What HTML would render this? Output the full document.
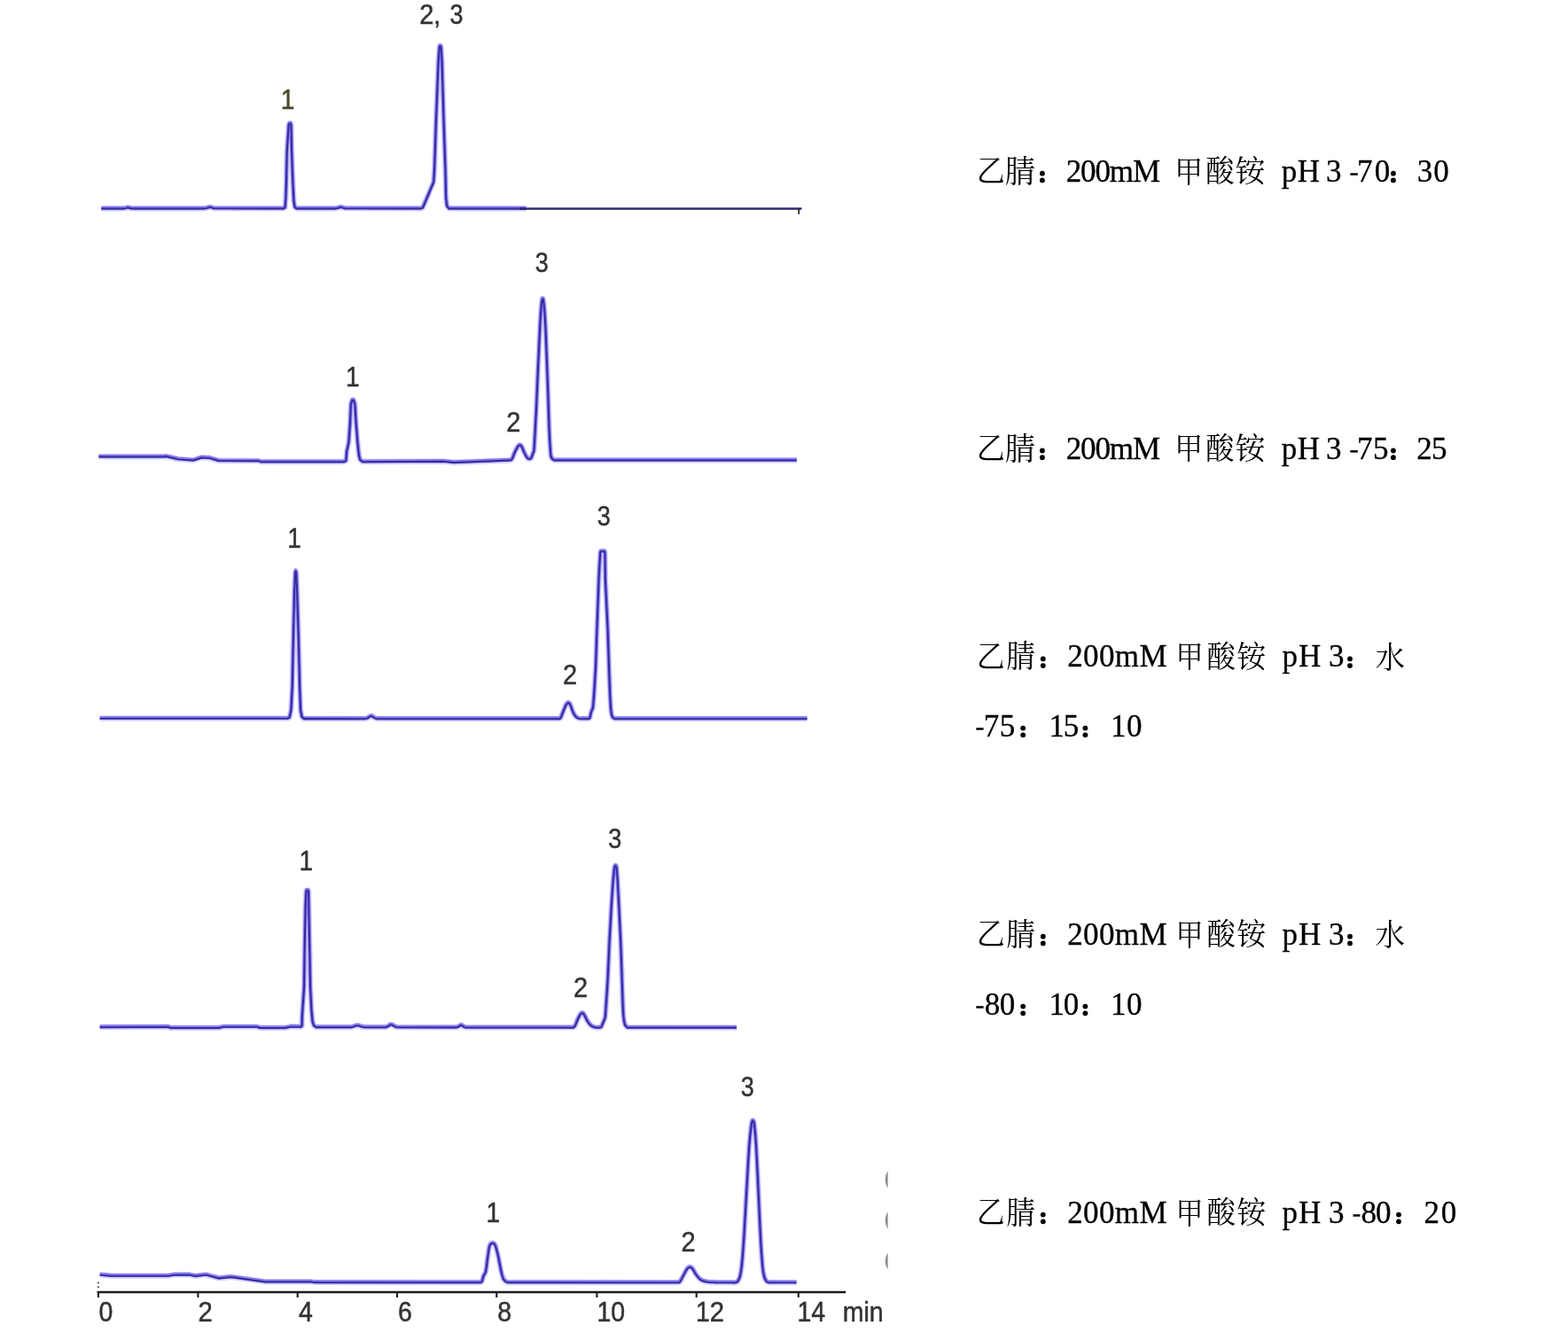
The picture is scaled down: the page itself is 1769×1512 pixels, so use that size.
<!DOCTYPE html><html><head><meta charset="utf-8"><title>Chromatograms</title><style>html,body{margin:0;padding:0;background:#fff;}body{width:1769px;height:1512px;overflow:hidden;}svg{display:block;}text{font-kerning:none;white-space:pre;}</style></head><body><svg width="1769" height="1512" viewBox="0 0 1769 1512">
<g filter="url(#bl)">
<path d="M114.3,235.3 139.8,235.2 141.8,234.9 143.8,234.3 144.8,234.3 148.3,235.2 230.8,235.2 232.8,234.9 235.8,234.0 236.8,233.8 237.8,233.9 241.3,235.0 319.5,235.3 321.6,234.2 322.4,223.2 323.0,206.0 323.7,171.6 325.7,141.3 326.5,139.2 327.7,139.2 328.5,141.3 329.1,171.6 330.4,206.0 331.5,227.5 332.6,233.8 334.5,235.3 378.3,235.2 380.3,234.9 383.3,234.0 384.3,233.8 385.3,233.9 388.8,235.0 474.5,235.3 477.0,234.3 481.6,223.6 489.2,205.5 490.2,189.2 491.9,137.6 494.6,68.8 495.7,53.4 496.1,51.9 497.1,51.9 497.6,53.4 498.6,68.8 500.6,137.6 502.4,189.2 503.2,223.6 504.2,232.5 506.5,235.3 593.8,235.3" fill="none" stroke="#5a48ee" stroke-width="6.4" stroke-linejoin="round" stroke-linecap="butt" opacity="0.26"/>
<path d="M114.3,235.3 139.8,235.2 141.8,234.9 143.8,234.3 144.8,234.3 148.3,235.2 230.8,235.2 232.8,234.9 235.8,234.0 236.8,233.8 237.8,233.9 241.3,235.0 319.5,235.3 321.6,234.2 322.4,223.2 323.0,206.0 323.7,171.6 325.7,141.3 326.5,139.2 327.7,139.2 328.5,141.3 329.1,171.6 330.4,206.0 331.5,227.5 332.6,233.8 334.5,235.3 378.3,235.2 380.3,234.9 383.3,234.0 384.3,233.8 385.3,233.9 388.8,235.0 474.5,235.3 477.0,234.3 481.6,223.6 489.2,205.5 490.2,189.2 491.9,137.6 494.6,68.8 495.7,53.4 496.1,51.9 497.1,51.9 497.6,53.4 498.6,68.8 500.6,137.6 502.4,189.2 503.2,223.6 504.2,232.5 506.5,235.3 593.8,235.3" transform="translate(0,-0.55)" fill="none" stroke="#7d6ff4" stroke-width="4.0" stroke-linejoin="round" stroke-linecap="butt" opacity="0.9"/>
<path d="M114.3,235.3 139.8,235.2 141.8,234.9 143.8,234.3 144.8,234.3 148.3,235.2 230.8,235.2 232.8,234.9 235.8,234.0 236.8,233.8 237.8,233.9 241.3,235.0 319.5,235.3 321.6,234.2 322.4,223.2 323.0,206.0 323.7,171.6 325.7,141.3 326.5,139.2 327.7,139.2 328.5,141.3 329.1,171.6 330.4,206.0 331.5,227.5 332.6,233.8 334.5,235.3 378.3,235.2 380.3,234.9 383.3,234.0 384.3,233.8 385.3,233.9 388.8,235.0 474.5,235.3 477.0,234.3 481.6,223.6 489.2,205.5 490.2,189.2 491.9,137.6 494.6,68.8 495.7,53.4 496.1,51.9 497.1,51.9 497.6,53.4 498.6,68.8 500.6,137.6 502.4,189.2 503.2,223.6 504.2,232.5 506.5,235.3 593.8,235.3" transform="translate(0,0.25)" fill="none" stroke="#362c98" stroke-width="1.95" stroke-linejoin="round" stroke-linecap="butt"/>
<path d="M586 235.5 H904.5" stroke="#2c2a68" stroke-width="2.3" fill="none"/>
<path d="M901.2 235 V241.8" stroke="#222" stroke-width="1.7" fill="none"/>
<path d="M111.4,515.3 184.9,515.3 186.9,514.8 201.4,518.1 217.9,519.3 218.4,519.2 227.4,516.3 227.9,516.2 236.9,516.9 246.4,519.7 246.9,519.8 291.4,520.0 291.9,520.0 293.9,521.0 388.5,521.0 390.4,520.0 391.1,509.9 393.4,499.4 394.9,478.6 395.9,456.0 397.4,451.4 398.8,451.4 400.4,456.0 401.8,478.6 403.4,499.4 404.9,513.3 406.2,518.8 409.0,521.0 499.9,520.5 512.4,521.7 575.5,519.3 576.9,518.8 577.8,517.8 578.7,515.7 579.7,513.0 580.8,510.4 582.0,507.9 583.4,505.4 584.5,503.6 585.3,502.7 586.0,502.4 586.6,502.4 587.2,502.5 587.7,502.9 588.4,503.8 589.3,505.6 591.3,510.4 593.5,514.7 594.5,516.3 595.4,517.3 596.2,517.7 597.0,517.9 597.9,517.8 598.7,517.4 599.5,516.5 600.2,514.9 601.5,511.0 602.2,509.7 602.5,507.6 602.8,503.3 605.0,462.1 606.8,419.5 608.7,379.6 609.5,362.6 610.2,351.8 610.8,344.8 611.3,340.1 611.7,337.8 611.9,337.2 612.2,337.3 612.5,337.2 612.8,337.8 613.2,340.1 613.8,344.8 614.4,351.8 615.1,362.6 615.9,379.6 618.0,435.3 619.5,482.1 619.9,490.5 620.3,498.7 620.8,506.2 621.2,511.8 621.6,514.8 622.0,516.1 622.5,517.0 623.5,518.1 625.5,519.3 898.9,519.3" fill="none" stroke="#5a48ee" stroke-width="6.4" stroke-linejoin="round" stroke-linecap="butt" opacity="0.26"/>
<path d="M111.4,515.3 184.9,515.3 186.9,514.8 201.4,518.1 217.9,519.3 218.4,519.2 227.4,516.3 227.9,516.2 236.9,516.9 246.4,519.7 246.9,519.8 291.4,520.0 291.9,520.0 293.9,521.0 388.5,521.0 390.4,520.0 391.1,509.9 393.4,499.4 394.9,478.6 395.9,456.0 397.4,451.4 398.8,451.4 400.4,456.0 401.8,478.6 403.4,499.4 404.9,513.3 406.2,518.8 409.0,521.0 499.9,520.5 512.4,521.7 575.5,519.3 576.9,518.8 577.8,517.8 578.7,515.7 579.7,513.0 580.8,510.4 582.0,507.9 583.4,505.4 584.5,503.6 585.3,502.7 586.0,502.4 586.6,502.4 587.2,502.5 587.7,502.9 588.4,503.8 589.3,505.6 591.3,510.4 593.5,514.7 594.5,516.3 595.4,517.3 596.2,517.7 597.0,517.9 597.9,517.8 598.7,517.4 599.5,516.5 600.2,514.9 601.5,511.0 602.2,509.7 602.5,507.6 602.8,503.3 605.0,462.1 606.8,419.5 608.7,379.6 609.5,362.6 610.2,351.8 610.8,344.8 611.3,340.1 611.7,337.8 611.9,337.2 612.2,337.3 612.5,337.2 612.8,337.8 613.2,340.1 613.8,344.8 614.4,351.8 615.1,362.6 615.9,379.6 618.0,435.3 619.5,482.1 619.9,490.5 620.3,498.7 620.8,506.2 621.2,511.8 621.6,514.8 622.0,516.1 622.5,517.0 623.5,518.1 625.5,519.3 898.9,519.3" transform="translate(0,-0.55)" fill="none" stroke="#7d6ff4" stroke-width="4.0" stroke-linejoin="round" stroke-linecap="butt" opacity="0.9"/>
<path d="M111.4,515.3 184.9,515.3 186.9,514.8 201.4,518.1 217.9,519.3 218.4,519.2 227.4,516.3 227.9,516.2 236.9,516.9 246.4,519.7 246.9,519.8 291.4,520.0 291.9,520.0 293.9,521.0 388.5,521.0 390.4,520.0 391.1,509.9 393.4,499.4 394.9,478.6 395.9,456.0 397.4,451.4 398.8,451.4 400.4,456.0 401.8,478.6 403.4,499.4 404.9,513.3 406.2,518.8 409.0,521.0 499.9,520.5 512.4,521.7 575.5,519.3 576.9,518.8 577.8,517.8 578.7,515.7 579.7,513.0 580.8,510.4 582.0,507.9 583.4,505.4 584.5,503.6 585.3,502.7 586.0,502.4 586.6,502.4 587.2,502.5 587.7,502.9 588.4,503.8 589.3,505.6 591.3,510.4 593.5,514.7 594.5,516.3 595.4,517.3 596.2,517.7 597.0,517.9 597.9,517.8 598.7,517.4 599.5,516.5 600.2,514.9 601.5,511.0 602.2,509.7 602.5,507.6 602.8,503.3 605.0,462.1 606.8,419.5 608.7,379.6 609.5,362.6 610.2,351.8 610.8,344.8 611.3,340.1 611.7,337.8 611.9,337.2 612.2,337.3 612.5,337.2 612.8,337.8 613.2,340.1 613.8,344.8 614.4,351.8 615.1,362.6 615.9,379.6 618.0,435.3 619.5,482.1 619.9,490.5 620.3,498.7 620.8,506.2 621.2,511.8 621.6,514.8 622.0,516.1 622.5,517.0 623.5,518.1 625.5,519.3 898.9,519.3" transform="translate(0,0.25)" fill="none" stroke="#362c98" stroke-width="1.95" stroke-linejoin="round" stroke-linecap="butt"/>
<path d="M112.6,810.6 324.5,810.6 326.6,809.6 328.4,801.4 329.8,774.3 330.9,720.0 332.2,665.7 333.1,646.3 333.6,644.2 334.3,646.3 335.1,665.7 336.8,720.0 338.1,774.3 339.1,801.4 340.5,808.8 343.0,811.0 343.1,810.8 412.1,810.9 413.6,810.6 414.6,810.3 417.6,808.3 418.1,808.1 418.6,808.0 419.1,808.0 419.6,808.1 420.6,808.7 422.6,810.0 423.6,810.5 425.1,810.9 630.1,810.9 630.5,811.0 631.7,810.7 632.5,810.0 633.2,808.6 637.3,798.2 638.5,795.6 639.5,794.2 640.4,793.3 641.3,793.0 642.0,793.3 642.7,794.2 643.5,795.6 644.5,798.2 645.7,801.6 646.8,804.4 647.8,806.2 648.6,807.5 650.3,809.3 651.1,809.9 652.0,810.4 653.4,810.7 656.0,811.0 656.1,810.9 663.6,810.9 663.8,811.0 665.5,810.2 666.8,804.0 669.0,798.4 670.2,783.6 672.0,753.8 673.5,709.2 675.7,649.6 677.2,623.8 677.8,622.0 682.0,622.0 682.5,623.8 682.9,654.1 685.6,709.2 687.1,753.8 688.2,783.6 689.0,798.4 690.0,806.5 691.5,810.0 693.5,811.0 693.6,810.9 910.6,810.9" fill="none" stroke="#5a48ee" stroke-width="6.4" stroke-linejoin="round" stroke-linecap="butt" opacity="0.26"/>
<path d="M112.6,810.6 324.5,810.6 326.6,809.6 328.4,801.4 329.8,774.3 330.9,720.0 332.2,665.7 333.1,646.3 333.6,644.2 334.3,646.3 335.1,665.7 336.8,720.0 338.1,774.3 339.1,801.4 340.5,808.8 343.0,811.0 343.1,810.8 412.1,810.9 413.6,810.6 414.6,810.3 417.6,808.3 418.1,808.1 418.6,808.0 419.1,808.0 419.6,808.1 420.6,808.7 422.6,810.0 423.6,810.5 425.1,810.9 630.1,810.9 630.5,811.0 631.7,810.7 632.5,810.0 633.2,808.6 637.3,798.2 638.5,795.6 639.5,794.2 640.4,793.3 641.3,793.0 642.0,793.3 642.7,794.2 643.5,795.6 644.5,798.2 645.7,801.6 646.8,804.4 647.8,806.2 648.6,807.5 650.3,809.3 651.1,809.9 652.0,810.4 653.4,810.7 656.0,811.0 656.1,810.9 663.6,810.9 663.8,811.0 665.5,810.2 666.8,804.0 669.0,798.4 670.2,783.6 672.0,753.8 673.5,709.2 675.7,649.6 677.2,623.8 677.8,622.0 682.0,622.0 682.5,623.8 682.9,654.1 685.6,709.2 687.1,753.8 688.2,783.6 689.0,798.4 690.0,806.5 691.5,810.0 693.5,811.0 693.6,810.9 910.6,810.9" transform="translate(0,-0.55)" fill="none" stroke="#7d6ff4" stroke-width="4.0" stroke-linejoin="round" stroke-linecap="butt" opacity="0.9"/>
<path d="M112.6,810.6 324.5,810.6 326.6,809.6 328.4,801.4 329.8,774.3 330.9,720.0 332.2,665.7 333.1,646.3 333.6,644.2 334.3,646.3 335.1,665.7 336.8,720.0 338.1,774.3 339.1,801.4 340.5,808.8 343.0,811.0 343.1,810.8 412.1,810.9 413.6,810.6 414.6,810.3 417.6,808.3 418.1,808.1 418.6,808.0 419.1,808.0 419.6,808.1 420.6,808.7 422.6,810.0 423.6,810.5 425.1,810.9 630.1,810.9 630.5,811.0 631.7,810.7 632.5,810.0 633.2,808.6 637.3,798.2 638.5,795.6 639.5,794.2 640.4,793.3 641.3,793.0 642.0,793.3 642.7,794.2 643.5,795.6 644.5,798.2 645.7,801.6 646.8,804.4 647.8,806.2 648.6,807.5 650.3,809.3 651.1,809.9 652.0,810.4 653.4,810.7 656.0,811.0 656.1,810.9 663.6,810.9 663.8,811.0 665.5,810.2 666.8,804.0 669.0,798.4 670.2,783.6 672.0,753.8 673.5,709.2 675.7,649.6 677.2,623.8 677.8,622.0 682.0,622.0 682.5,623.8 682.9,654.1 685.6,709.2 687.1,753.8 688.2,783.6 689.0,798.4 690.0,806.5 691.5,810.0 693.5,811.0 693.6,810.9 910.6,810.9" transform="translate(0,0.25)" fill="none" stroke="#362c98" stroke-width="1.95" stroke-linejoin="round" stroke-linecap="butt"/>
<path d="M112.6,1158.9 189.6,1158.6 190.1,1158.7 192.1,1159.8 247.1,1159.8 252.1,1158.6 290.1,1158.6 293.1,1159.8 322.1,1159.8 328.1,1158.4 338.1,1158.6 338.5,1158.8 340.6,1157.8 340.9,1146.1 343.1,1113.9 343.6,1075.2 344.6,1023.7 345.4,1006.4 345.9,1004.6 347.7,1004.6 348.1,1006.4 348.4,1023.7 349.4,1075.2 350.1,1113.9 351.4,1139.7 352.6,1152.6 354.0,1157.0 356.5,1159.0 356.6,1158.9 396.1,1159.0 398.1,1158.6 402.1,1157.2 403.1,1157.1 404.1,1157.1 408.6,1158.6 411.6,1159.0 434.6,1159.1 436.1,1158.8 437.1,1158.4 440.1,1156.5 440.6,1156.3 441.1,1156.2 441.6,1156.1 442.1,1156.3 443.1,1156.8 445.1,1158.1 446.1,1158.6 447.6,1159.0 514.6,1159.2 515.6,1159.1 516.6,1158.8 517.6,1158.2 519.1,1157.1 519.6,1156.9 520.1,1156.8 520.6,1156.8 521.1,1157.0 523.1,1158.4 524.1,1158.9 525.1,1159.2 646.5,1159.4 647.7,1158.9 648.5,1158.0 649.3,1156.4 651.0,1152.0 653.4,1147.0 654.5,1145.0 655.4,1143.8 656.1,1143.3 656.8,1143.1 657.5,1143.3 658.2,1143.8 659.0,1145.0 660.1,1147.0 661.4,1149.7 662.6,1152.0 663.8,1153.8 664.9,1155.3 666.0,1156.5 667.1,1157.4 668.1,1158.1 669.2,1158.6 670.4,1159.0 671.7,1159.2 674.4,1159.5 675.8,1159.5 677.0,1159.4 677.7,1159.3 678.1,1159.0 678.5,1158.5 679.0,1157.7 680.0,1155.0 681.9,1150.7 682.7,1147.7 683.1,1144.4 683.7,1134.6 684.9,1116.9 685.6,1105.5 687.6,1061.8 689.9,1020.9 691.0,1003.6 691.8,992.6 692.5,985.4 693.0,980.5 693.4,978.2 693.6,977.8 693.8,977.6 694.2,976.8 694.4,976.7 694.6,976.8 695.0,977.6 695.2,977.8 695.5,978.2 695.8,980.5 696.7,992.6 698.2,1020.9 700.2,1061.8 700.8,1078.0 702.4,1126.5 702.7,1134.6 703.0,1140.8 703.3,1145.4 703.7,1149.1 704.1,1152.1 704.5,1154.2 705.0,1156.0 705.8,1157.5 707.6,1159.4 831.1,1159.5" fill="none" stroke="#5a48ee" stroke-width="6.4" stroke-linejoin="round" stroke-linecap="butt" opacity="0.26"/>
<path d="M112.6,1158.9 189.6,1158.6 190.1,1158.7 192.1,1159.8 247.1,1159.8 252.1,1158.6 290.1,1158.6 293.1,1159.8 322.1,1159.8 328.1,1158.4 338.1,1158.6 338.5,1158.8 340.6,1157.8 340.9,1146.1 343.1,1113.9 343.6,1075.2 344.6,1023.7 345.4,1006.4 345.9,1004.6 347.7,1004.6 348.1,1006.4 348.4,1023.7 349.4,1075.2 350.1,1113.9 351.4,1139.7 352.6,1152.6 354.0,1157.0 356.5,1159.0 356.6,1158.9 396.1,1159.0 398.1,1158.6 402.1,1157.2 403.1,1157.1 404.1,1157.1 408.6,1158.6 411.6,1159.0 434.6,1159.1 436.1,1158.8 437.1,1158.4 440.1,1156.5 440.6,1156.3 441.1,1156.2 441.6,1156.1 442.1,1156.3 443.1,1156.8 445.1,1158.1 446.1,1158.6 447.6,1159.0 514.6,1159.2 515.6,1159.1 516.6,1158.8 517.6,1158.2 519.1,1157.1 519.6,1156.9 520.1,1156.8 520.6,1156.8 521.1,1157.0 523.1,1158.4 524.1,1158.9 525.1,1159.2 646.5,1159.4 647.7,1158.9 648.5,1158.0 649.3,1156.4 651.0,1152.0 653.4,1147.0 654.5,1145.0 655.4,1143.8 656.1,1143.3 656.8,1143.1 657.5,1143.3 658.2,1143.8 659.0,1145.0 660.1,1147.0 661.4,1149.7 662.6,1152.0 663.8,1153.8 664.9,1155.3 666.0,1156.5 667.1,1157.4 668.1,1158.1 669.2,1158.6 670.4,1159.0 671.7,1159.2 674.4,1159.5 675.8,1159.5 677.0,1159.4 677.7,1159.3 678.1,1159.0 678.5,1158.5 679.0,1157.7 680.0,1155.0 681.9,1150.7 682.7,1147.7 683.1,1144.4 683.7,1134.6 684.9,1116.9 685.6,1105.5 687.6,1061.8 689.9,1020.9 691.0,1003.6 691.8,992.6 692.5,985.4 693.0,980.5 693.4,978.2 693.6,977.8 693.8,977.6 694.2,976.8 694.4,976.7 694.6,976.8 695.0,977.6 695.2,977.8 695.5,978.2 695.8,980.5 696.7,992.6 698.2,1020.9 700.2,1061.8 700.8,1078.0 702.4,1126.5 702.7,1134.6 703.0,1140.8 703.3,1145.4 703.7,1149.1 704.1,1152.1 704.5,1154.2 705.0,1156.0 705.8,1157.5 707.6,1159.4 831.1,1159.5" transform="translate(0,-0.55)" fill="none" stroke="#7d6ff4" stroke-width="4.0" stroke-linejoin="round" stroke-linecap="butt" opacity="0.9"/>
<path d="M112.6,1158.9 189.6,1158.6 190.1,1158.7 192.1,1159.8 247.1,1159.8 252.1,1158.6 290.1,1158.6 293.1,1159.8 322.1,1159.8 328.1,1158.4 338.1,1158.6 338.5,1158.8 340.6,1157.8 340.9,1146.1 343.1,1113.9 343.6,1075.2 344.6,1023.7 345.4,1006.4 345.9,1004.6 347.7,1004.6 348.1,1006.4 348.4,1023.7 349.4,1075.2 350.1,1113.9 351.4,1139.7 352.6,1152.6 354.0,1157.0 356.5,1159.0 356.6,1158.9 396.1,1159.0 398.1,1158.6 402.1,1157.2 403.1,1157.1 404.1,1157.1 408.6,1158.6 411.6,1159.0 434.6,1159.1 436.1,1158.8 437.1,1158.4 440.1,1156.5 440.6,1156.3 441.1,1156.2 441.6,1156.1 442.1,1156.3 443.1,1156.8 445.1,1158.1 446.1,1158.6 447.6,1159.0 514.6,1159.2 515.6,1159.1 516.6,1158.8 517.6,1158.2 519.1,1157.1 519.6,1156.9 520.1,1156.8 520.6,1156.8 521.1,1157.0 523.1,1158.4 524.1,1158.9 525.1,1159.2 646.5,1159.4 647.7,1158.9 648.5,1158.0 649.3,1156.4 651.0,1152.0 653.4,1147.0 654.5,1145.0 655.4,1143.8 656.1,1143.3 656.8,1143.1 657.5,1143.3 658.2,1143.8 659.0,1145.0 660.1,1147.0 661.4,1149.7 662.6,1152.0 663.8,1153.8 664.9,1155.3 666.0,1156.5 667.1,1157.4 668.1,1158.1 669.2,1158.6 670.4,1159.0 671.7,1159.2 674.4,1159.5 675.8,1159.5 677.0,1159.4 677.7,1159.3 678.1,1159.0 678.5,1158.5 679.0,1157.7 680.0,1155.0 681.9,1150.7 682.7,1147.7 683.1,1144.4 683.7,1134.6 684.9,1116.9 685.6,1105.5 687.6,1061.8 689.9,1020.9 691.0,1003.6 691.8,992.6 692.5,985.4 693.0,980.5 693.4,978.2 693.6,977.8 693.8,977.6 694.2,976.8 694.4,976.7 694.6,976.8 695.0,977.6 695.2,977.8 695.5,978.2 695.8,980.5 696.7,992.6 698.2,1020.9 700.2,1061.8 700.8,1078.0 702.4,1126.5 702.7,1134.6 703.0,1140.8 703.3,1145.4 703.7,1149.1 704.1,1152.1 704.5,1154.2 705.0,1156.0 705.8,1157.5 707.6,1159.4 831.1,1159.5" transform="translate(0,0.25)" fill="none" stroke="#362c98" stroke-width="1.95" stroke-linejoin="round" stroke-linecap="butt"/>
<path d="M112.6,1438.4 125.6,1439.6 190.1,1439.6 196.6,1438.4 213.6,1438.4 220.6,1439.8 232.6,1438.4 246.6,1442.2 260.6,1440.8 299.1,1446.2 351.1,1446.2 354.1,1446.9 541.1,1447.0 541.5,1446.9 542.8,1446.9 543.6,1446.2 544.3,1444.3 544.9,1441.8 545.6,1439.5 546.4,1438.2 547.2,1437.1 548.0,1435.0 548.6,1431.3 549.8,1421.7 551.3,1411.0 552.1,1406.8 552.8,1404.8 553.4,1404.0 554.6,1403.0 555.1,1402.8 556.3,1402.8 556.8,1403.0 557.4,1403.4 558.0,1404.1 558.6,1405.0 559.3,1406.8 560.2,1410.1 561.3,1414.2 562.3,1418.7 565.2,1433.6 566.0,1437.2 566.8,1440.1 567.6,1442.5 568.6,1444.2 569.6,1445.3 570.6,1446.1 571.5,1446.6 573.0,1446.9 573.1,1447.0 764.6,1447.1 765.0,1447.0 765.5,1447.1 766.2,1447.1 767.2,1446.2 768.6,1443.9 774.4,1432.9 775.5,1431.4 776.5,1430.5 777.5,1430.0 778.4,1429.8 779.2,1430.0 780.0,1430.5 781.0,1431.4 782.1,1432.9 783.4,1435.3 784.9,1437.7 786.6,1440.0 788.6,1442.4 790.7,1444.2 793.0,1445.3 795.5,1446.0 798.0,1446.4 800.9,1446.7 806.0,1446.9 806.1,1447.1 826.6,1447.1 827.0,1447.3 828.9,1447.2 830.9,1446.8 831.7,1446.4 832.5,1445.5 833.4,1444.0 834.3,1442.0 835.1,1439.1 835.8,1435.4 836.5,1430.8 837.2,1424.6 837.9,1416.5 838.6,1406.8 839.4,1395.5 844.1,1311.0 845.2,1293.6 846.2,1282.2 847.1,1274.4 847.8,1269.0 848.2,1266.3 848.5,1265.7 848.7,1265.4 848.9,1264.8 849.2,1264.5 849.4,1264.4 849.6,1264.5 849.9,1264.8 850.1,1265.4 850.3,1265.7 850.6,1266.3 851.0,1269.0 851.6,1274.4 852.3,1282.2 853.1,1293.6 854.0,1311.0 856.7,1368.0 858.0,1395.5 858.6,1406.8 859.3,1416.5 859.9,1424.6 860.5,1430.8 861.1,1435.4 861.8,1439.1 862.6,1442.0 863.5,1444.0 864.5,1445.5 865.6,1446.4 867.5,1447.1 898.6,1447.1" fill="none" stroke="#5a48ee" stroke-width="6.4" stroke-linejoin="round" stroke-linecap="butt" opacity="0.26"/>
<path d="M112.6,1438.4 125.6,1439.6 190.1,1439.6 196.6,1438.4 213.6,1438.4 220.6,1439.8 232.6,1438.4 246.6,1442.2 260.6,1440.8 299.1,1446.2 351.1,1446.2 354.1,1446.9 541.1,1447.0 541.5,1446.9 542.8,1446.9 543.6,1446.2 544.3,1444.3 544.9,1441.8 545.6,1439.5 546.4,1438.2 547.2,1437.1 548.0,1435.0 548.6,1431.3 549.8,1421.7 551.3,1411.0 552.1,1406.8 552.8,1404.8 553.4,1404.0 554.6,1403.0 555.1,1402.8 556.3,1402.8 556.8,1403.0 557.4,1403.4 558.0,1404.1 558.6,1405.0 559.3,1406.8 560.2,1410.1 561.3,1414.2 562.3,1418.7 565.2,1433.6 566.0,1437.2 566.8,1440.1 567.6,1442.5 568.6,1444.2 569.6,1445.3 570.6,1446.1 571.5,1446.6 573.0,1446.9 573.1,1447.0 764.6,1447.1 765.0,1447.0 765.5,1447.1 766.2,1447.1 767.2,1446.2 768.6,1443.9 774.4,1432.9 775.5,1431.4 776.5,1430.5 777.5,1430.0 778.4,1429.8 779.2,1430.0 780.0,1430.5 781.0,1431.4 782.1,1432.9 783.4,1435.3 784.9,1437.7 786.6,1440.0 788.6,1442.4 790.7,1444.2 793.0,1445.3 795.5,1446.0 798.0,1446.4 800.9,1446.7 806.0,1446.9 806.1,1447.1 826.6,1447.1 827.0,1447.3 828.9,1447.2 830.9,1446.8 831.7,1446.4 832.5,1445.5 833.4,1444.0 834.3,1442.0 835.1,1439.1 835.8,1435.4 836.5,1430.8 837.2,1424.6 837.9,1416.5 838.6,1406.8 839.4,1395.5 844.1,1311.0 845.2,1293.6 846.2,1282.2 847.1,1274.4 847.8,1269.0 848.2,1266.3 848.5,1265.7 848.7,1265.4 848.9,1264.8 849.2,1264.5 849.4,1264.4 849.6,1264.5 849.9,1264.8 850.1,1265.4 850.3,1265.7 850.6,1266.3 851.0,1269.0 851.6,1274.4 852.3,1282.2 853.1,1293.6 854.0,1311.0 856.7,1368.0 858.0,1395.5 858.6,1406.8 859.3,1416.5 859.9,1424.6 860.5,1430.8 861.1,1435.4 861.8,1439.1 862.6,1442.0 863.5,1444.0 864.5,1445.5 865.6,1446.4 867.5,1447.1 898.6,1447.1" transform="translate(0,-0.55)" fill="none" stroke="#7d6ff4" stroke-width="4.0" stroke-linejoin="round" stroke-linecap="butt" opacity="0.9"/>
<path d="M112.6,1438.4 125.6,1439.6 190.1,1439.6 196.6,1438.4 213.6,1438.4 220.6,1439.8 232.6,1438.4 246.6,1442.2 260.6,1440.8 299.1,1446.2 351.1,1446.2 354.1,1446.9 541.1,1447.0 541.5,1446.9 542.8,1446.9 543.6,1446.2 544.3,1444.3 544.9,1441.8 545.6,1439.5 546.4,1438.2 547.2,1437.1 548.0,1435.0 548.6,1431.3 549.8,1421.7 551.3,1411.0 552.1,1406.8 552.8,1404.8 553.4,1404.0 554.6,1403.0 555.1,1402.8 556.3,1402.8 556.8,1403.0 557.4,1403.4 558.0,1404.1 558.6,1405.0 559.3,1406.8 560.2,1410.1 561.3,1414.2 562.3,1418.7 565.2,1433.6 566.0,1437.2 566.8,1440.1 567.6,1442.5 568.6,1444.2 569.6,1445.3 570.6,1446.1 571.5,1446.6 573.0,1446.9 573.1,1447.0 764.6,1447.1 765.0,1447.0 765.5,1447.1 766.2,1447.1 767.2,1446.2 768.6,1443.9 774.4,1432.9 775.5,1431.4 776.5,1430.5 777.5,1430.0 778.4,1429.8 779.2,1430.0 780.0,1430.5 781.0,1431.4 782.1,1432.9 783.4,1435.3 784.9,1437.7 786.6,1440.0 788.6,1442.4 790.7,1444.2 793.0,1445.3 795.5,1446.0 798.0,1446.4 800.9,1446.7 806.0,1446.9 806.1,1447.1 826.6,1447.1 827.0,1447.3 828.9,1447.2 830.9,1446.8 831.7,1446.4 832.5,1445.5 833.4,1444.0 834.3,1442.0 835.1,1439.1 835.8,1435.4 836.5,1430.8 837.2,1424.6 837.9,1416.5 838.6,1406.8 839.4,1395.5 844.1,1311.0 845.2,1293.6 846.2,1282.2 847.1,1274.4 847.8,1269.0 848.2,1266.3 848.5,1265.7 848.7,1265.4 848.9,1264.8 849.2,1264.5 849.4,1264.4 849.6,1264.5 849.9,1264.8 850.1,1265.4 850.3,1265.7 850.6,1266.3 851.0,1269.0 851.6,1274.4 852.3,1282.2 853.1,1293.6 854.0,1311.0 856.7,1368.0 858.0,1395.5 858.6,1406.8 859.3,1416.5 859.9,1424.6 860.5,1430.8 861.1,1435.4 861.8,1439.1 862.6,1442.0 863.5,1444.0 864.5,1445.5 865.6,1446.4 867.5,1447.1 898.6,1447.1" transform="translate(0,0.25)" fill="none" stroke="#362c98" stroke-width="1.95" stroke-linejoin="round" stroke-linecap="butt"/>
<path d="M109.5 1458 H954.2" stroke="#1e1e1e" stroke-width="2.3" fill="none"/>
<path d="M110.9 1458 V1464" stroke="#1e1e1e" stroke-width="2.1" fill="none"/>
<path d="M223.4 1458 V1464" stroke="#1e1e1e" stroke-width="2.1" fill="none"/>
<path d="M335.7 1458 V1464" stroke="#1e1e1e" stroke-width="2.1" fill="none"/>
<path d="M448.0 1458 V1464" stroke="#1e1e1e" stroke-width="2.1" fill="none"/>
<path d="M560.3 1458 V1464" stroke="#1e1e1e" stroke-width="2.1" fill="none"/>
<path d="M673.4 1458 V1464" stroke="#1e1e1e" stroke-width="2.1" fill="none"/>
<path d="M785.7 1458 V1464" stroke="#1e1e1e" stroke-width="2.1" fill="none"/>
<path d="M900.8 1458 V1464" stroke="#1e1e1e" stroke-width="2.1" fill="none"/>
<rect x="110.1" y="1446.6" width="1.6" height="1.6" fill="#1e1e1e"/><rect x="110.1" y="1451.4" width="1.6" height="1.6" fill="#1e1e1e"/>
<text transform="translate(111.49 1491.30) scale(0.92 1)" font-family="Liberation Sans" font-size="31.0" fill="#333" stroke="#333" stroke-width="0.5">0</text>
<text transform="translate(223.47 1491.30) scale(0.9476000000000001 1)" font-family="Liberation Sans" font-size="31.0" fill="#333" stroke="#333" stroke-width="0.5">2</text>
<text transform="translate(337.05 1491.30) scale(0.92 1)" font-family="Liberation Sans" font-size="31.0" fill="#333" stroke="#333" stroke-width="0.5">4</text>
<text transform="translate(449.05 1491.30) scale(0.92 1)" font-family="Liberation Sans" font-size="31.0" fill="#333" stroke="#333" stroke-width="0.5">6</text>
<text transform="translate(561.26 1491.30) scale(0.92 1)" font-family="Liberation Sans" font-size="31.0" fill="#333" stroke="#333" stroke-width="0.5">8</text>
<text transform="translate(673.49 1491.30) scale(0.92 1)" font-family="Liberation Sans" font-size="31.0" fill="#333" stroke="#333" stroke-width="0.5">1</text>
<text transform="translate(689.36 1491.30) scale(0.92 1)" font-family="Liberation Sans" font-size="31.0" fill="#333" stroke="#333" stroke-width="0.5">0</text>
<text transform="translate(784.89 1491.30) scale(0.92 1)" font-family="Liberation Sans" font-size="31.0" fill="#333" stroke="#333" stroke-width="0.5">1</text>
<text transform="translate(800.76 1491.30) scale(0.9476000000000001 1)" font-family="Liberation Sans" font-size="31.0" fill="#333" stroke="#333" stroke-width="0.5">2</text>
<text transform="translate(899.49 1491.30) scale(0.92 1)" font-family="Liberation Sans" font-size="31.0" fill="#333" stroke="#333" stroke-width="0.5">1</text>
<text transform="translate(915.36 1491.30) scale(0.92 1)" font-family="Liberation Sans" font-size="31.0" fill="#333" stroke="#333" stroke-width="0.5">4</text>
<text transform="translate(950.71 1491.30) scale(0.92 1)" font-family="Liberation Sans" font-size="31.0" fill="#333" stroke="#333" stroke-width="0.5">m</text>
<text transform="translate(974.46 1491.30) scale(0.92 1)" font-family="Liberation Sans" font-size="31.0" fill="#333" stroke="#333" stroke-width="0.5">i</text>
<text transform="translate(980.80 1491.30) scale(0.92 1)" font-family="Liberation Sans" font-size="31.0" fill="#333" stroke="#333" stroke-width="0.5">n</text>
<path d="M1001.6,1321.0 Q995.6,1330.85 1001.6,1340.7 Z" fill="#8e8e8e"/>
<path d="M1001.6,1367.3 Q995.6,1377.1 1001.6,1386.9 Z" fill="#8e8e8e"/>
<path d="M1001.6,1413.6 Q995.6,1423.05 1001.6,1432.5 Z" fill="#8e8e8e"/>
<text transform="translate(316.83 123.20) scale(0.88 1)" font-family="Liberation Sans" font-size="32.0" fill="#4d4a2a" stroke="#4d4a2a" stroke-width="0.5">1</text>
<text transform="translate(473.18 27.10) scale(0.9064 1)" font-family="Liberation Sans" font-size="32.0" fill="#333" stroke="#333" stroke-width="0.5">2</text>
<text transform="translate(489.31 27.10) scale(0.88 1)" font-family="Liberation Sans" font-size="32.0" fill="#333" stroke="#333" stroke-width="0.5">,</text>
<text transform="translate(507.43 27.10) scale(0.8448 1)" font-family="Liberation Sans" font-size="32.0" fill="#333" stroke="#333" stroke-width="0.5">3</text>
<text transform="translate(389.93 436.40) scale(0.88 1)" font-family="Liberation Sans" font-size="32.0" fill="#333" stroke="#333" stroke-width="0.5">1</text>
<text transform="translate(571.18 486.70) scale(0.9064 1)" font-family="Liberation Sans" font-size="32.0" fill="#333" stroke="#333" stroke-width="0.5">2</text>
<text transform="translate(603.73 307.00) scale(0.8448 1)" font-family="Liberation Sans" font-size="32.0" fill="#333" stroke="#333" stroke-width="0.5">3</text>
<text transform="translate(324.33 618.40) scale(0.88 1)" font-family="Liberation Sans" font-size="32.0" fill="#333" stroke="#333" stroke-width="0.5">1</text>
<text transform="translate(635.08 771.50) scale(0.9064 1)" font-family="Liberation Sans" font-size="32.0" fill="#333" stroke="#333" stroke-width="0.5">2</text>
<text transform="translate(673.63 593.40) scale(0.8448 1)" font-family="Liberation Sans" font-size="32.0" fill="#333" stroke="#333" stroke-width="0.5">3</text>
<text transform="translate(337.53 982.10) scale(0.88 1)" font-family="Liberation Sans" font-size="32.0" fill="#333" stroke="#333" stroke-width="0.5">1</text>
<text transform="translate(646.98 1124.60) scale(0.9064 1)" font-family="Liberation Sans" font-size="32.0" fill="#333" stroke="#333" stroke-width="0.5">2</text>
<text transform="translate(686.13 956.70) scale(0.8448 1)" font-family="Liberation Sans" font-size="32.0" fill="#333" stroke="#333" stroke-width="0.5">3</text>
<text transform="translate(548.53 1379.20) scale(0.88 1)" font-family="Liberation Sans" font-size="32.0" fill="#333" stroke="#333" stroke-width="0.5">1</text>
<text transform="translate(768.48 1411.60) scale(0.9064 1)" font-family="Liberation Sans" font-size="32.0" fill="#333" stroke="#333" stroke-width="0.5">2</text>
<text transform="translate(835.73 1236.70) scale(0.8448 1)" font-family="Liberation Sans" font-size="32.0" fill="#333" stroke="#333" stroke-width="0.5">3</text>
</g>
<g filter="url(#bt)">
<text transform="translate(1101.95 205.48) scale(0.9302 1)" font-family="'Liberation Serif','Noto Serif CJK SC',serif" font-size="34.08" fill="#000">乙</text>
<text transform="translate(1133.40 205.70) scale(0.9805 1)" font-family="'Liberation Serif','Noto Serif CJK SC',serif" font-size="35.44" fill="#000">腈</text>
<circle cx="1175.90" cy="195.70" r="2.9" fill="#000"/><circle cx="1175.90" cy="203.40" r="2.9" fill="#000"/>
<text x="1202.66" y="204.70" font-family="Liberation Serif" font-size="35" fill="#000" stroke="#000" stroke-width="0.3" textLength="106.36" lengthAdjust="spacing">200mM</text>
<text transform="translate(1325.20 205.61) scale(0.9325 1)" font-family="'Liberation Serif','Noto Serif CJK SC',serif" font-size="34.09" fill="#000">甲</text>
<text transform="translate(1360.32 205.34) scale(0.9532 1)" font-family="'Liberation Serif','Noto Serif CJK SC',serif" font-size="33.73" fill="#000">酸</text>
<text transform="translate(1393.86 205.17) scale(0.9956 1)" font-family="'Liberation Serif','Noto Serif CJK SC',serif" font-size="33.73" fill="#000">铵</text>
<text x="1445.64" y="204.70" font-family="Liberation Serif" font-size="35" fill="#000" stroke="#000" stroke-width="0.3" textLength="43.49" lengthAdjust="spacing">pH</text>
<text x="1495.93" y="204.70" font-family="Liberation Serif" font-size="35" fill="#000" stroke="#000" stroke-width="0.3">3</text>
<rect x="1523.30" y="195.30" width="8.50" height="2.5" fill="#000"/>
<text x="1531.09" y="204.70" font-family="Liberation Serif" font-size="35" fill="#000" stroke="#000" stroke-width="0.3" textLength="37.14" lengthAdjust="spacing">70</text>
<circle cx="1571.90" cy="195.70" r="2.9" fill="#000"/><circle cx="1571.90" cy="203.40" r="2.9" fill="#000"/>
<text x="1598.63" y="204.70" font-family="Liberation Serif" font-size="35" fill="#000" stroke="#000" stroke-width="0.3" textLength="36.11" lengthAdjust="spacing">30</text>
<text transform="translate(1101.95 518.28) scale(0.9302 1)" font-family="'Liberation Serif','Noto Serif CJK SC',serif" font-size="34.08" fill="#000">乙</text>
<text transform="translate(1133.40 518.50) scale(0.9805 1)" font-family="'Liberation Serif','Noto Serif CJK SC',serif" font-size="35.44" fill="#000">腈</text>
<circle cx="1175.90" cy="508.50" r="2.9" fill="#000"/><circle cx="1175.90" cy="516.20" r="2.9" fill="#000"/>
<text x="1202.66" y="517.50" font-family="Liberation Serif" font-size="35" fill="#000" stroke="#000" stroke-width="0.3" textLength="106.36" lengthAdjust="spacing">200mM</text>
<text transform="translate(1325.20 518.41) scale(0.9325 1)" font-family="'Liberation Serif','Noto Serif CJK SC',serif" font-size="34.09" fill="#000">甲</text>
<text transform="translate(1360.32 518.14) scale(0.9532 1)" font-family="'Liberation Serif','Noto Serif CJK SC',serif" font-size="33.73" fill="#000">酸</text>
<text transform="translate(1393.86 517.97) scale(0.9956 1)" font-family="'Liberation Serif','Noto Serif CJK SC',serif" font-size="33.73" fill="#000">铵</text>
<text x="1445.64" y="517.50" font-family="Liberation Serif" font-size="35" fill="#000" stroke="#000" stroke-width="0.3" textLength="43.49" lengthAdjust="spacing">pH</text>
<text x="1495.93" y="517.50" font-family="Liberation Serif" font-size="35" fill="#000" stroke="#000" stroke-width="0.3">3</text>
<rect x="1523.30" y="508.10" width="8.50" height="2.5" fill="#000"/>
<text x="1531.09" y="517.50" font-family="Liberation Serif" font-size="35" fill="#000" stroke="#000" stroke-width="0.3" textLength="35.37" lengthAdjust="spacing">75</text>
<circle cx="1571.90" cy="508.50" r="2.9" fill="#000"/><circle cx="1571.90" cy="516.20" r="2.9" fill="#000"/>
<text x="1598.36" y="517.50" font-family="Liberation Serif" font-size="35" fill="#000" stroke="#000" stroke-width="0.3" textLength="34.11" lengthAdjust="spacing">25</text>
<text transform="translate(1102.06 753.18) scale(0.9266 1)" font-family="'Liberation Serif','Noto Serif CJK SC',serif" font-size="34.08" fill="#000">乙</text>
<text transform="translate(1135.07 753.40) scale(0.9374 1)" font-family="'Liberation Serif','Noto Serif CJK SC',serif" font-size="35.44" fill="#000">腈</text>
<circle cx="1176.80" cy="743.40" r="2.9" fill="#000"/><circle cx="1176.80" cy="751.10" r="2.9" fill="#000"/>
<text x="1204.16" y="752.40" font-family="Liberation Serif" font-size="35" fill="#000" stroke="#000" stroke-width="0.3" textLength="112.36" lengthAdjust="spacing">200mM</text>
<text transform="translate(1326.61 753.31) scale(0.9099 1)" font-family="'Liberation Serif','Noto Serif CJK SC',serif" font-size="34.09" fill="#000">甲</text>
<text transform="translate(1361.51 753.04) scale(0.9597 1)" font-family="'Liberation Serif','Noto Serif CJK SC',serif" font-size="33.73" fill="#000">酸</text>
<text transform="translate(1395.59 752.87) scale(0.9671 1)" font-family="'Liberation Serif','Noto Serif CJK SC',serif" font-size="33.73" fill="#000">铵</text>
<text x="1446.44" y="752.40" font-family="Liberation Serif" font-size="35" fill="#000" stroke="#000" stroke-width="0.3" textLength="43.79" lengthAdjust="spacing">pH</text>
<text x="1499.03" y="752.40" font-family="Liberation Serif" font-size="35" fill="#000" stroke="#000" stroke-width="0.3">3</text>
<circle cx="1523.00" cy="743.40" r="2.9" fill="#000"/><circle cx="1523.00" cy="751.10" r="2.9" fill="#000"/>
<text transform="translate(1551.50 753.80) scale(0.9881 1)" font-family="'Liberation Serif','Noto Serif CJK SC',serif" font-size="33.73" fill="#000">水</text>
<rect x="1101.30" y="821.20" width="8.30" height="2.5" fill="#000"/>
<text x="1109.69" y="830.60" font-family="Liberation Serif" font-size="35" fill="#000" stroke="#000" stroke-width="0.3" textLength="35.67" lengthAdjust="spacing">75</text>
<circle cx="1154.20" cy="821.60" r="2.9" fill="#000"/><circle cx="1154.20" cy="829.30" r="2.9" fill="#000"/>
<text x="1183.52" y="830.60" font-family="Liberation Serif" font-size="35" fill="#000" stroke="#000" stroke-width="0.3" textLength="33.64" lengthAdjust="spacing">15</text>
<circle cx="1224.40" cy="821.60" r="2.9" fill="#000"/><circle cx="1224.40" cy="829.30" r="2.9" fill="#000"/>
<text x="1253.12" y="830.60" font-family="Liberation Serif" font-size="35" fill="#000" stroke="#000" stroke-width="0.3" textLength="35.31" lengthAdjust="spacing">10</text>
<text transform="translate(1102.06 1066.48) scale(0.9266 1)" font-family="'Liberation Serif','Noto Serif CJK SC',serif" font-size="34.08" fill="#000">乙</text>
<text transform="translate(1135.07 1066.70) scale(0.9374 1)" font-family="'Liberation Serif','Noto Serif CJK SC',serif" font-size="35.44" fill="#000">腈</text>
<circle cx="1176.80" cy="1056.70" r="2.9" fill="#000"/><circle cx="1176.80" cy="1064.40" r="2.9" fill="#000"/>
<text x="1204.16" y="1065.70" font-family="Liberation Serif" font-size="35" fill="#000" stroke="#000" stroke-width="0.3" textLength="112.36" lengthAdjust="spacing">200mM</text>
<text transform="translate(1326.61 1066.61) scale(0.9099 1)" font-family="'Liberation Serif','Noto Serif CJK SC',serif" font-size="34.09" fill="#000">甲</text>
<text transform="translate(1361.51 1066.34) scale(0.9597 1)" font-family="'Liberation Serif','Noto Serif CJK SC',serif" font-size="33.73" fill="#000">酸</text>
<text transform="translate(1395.59 1066.17) scale(0.9671 1)" font-family="'Liberation Serif','Noto Serif CJK SC',serif" font-size="33.73" fill="#000">铵</text>
<text x="1446.44" y="1065.70" font-family="Liberation Serif" font-size="35" fill="#000" stroke="#000" stroke-width="0.3" textLength="43.79" lengthAdjust="spacing">pH</text>
<text x="1499.03" y="1065.70" font-family="Liberation Serif" font-size="35" fill="#000" stroke="#000" stroke-width="0.3">3</text>
<circle cx="1523.00" cy="1056.70" r="2.9" fill="#000"/><circle cx="1523.00" cy="1064.40" r="2.9" fill="#000"/>
<text transform="translate(1551.50 1067.10) scale(0.9881 1)" font-family="'Liberation Serif','Noto Serif CJK SC',serif" font-size="33.73" fill="#000">水</text>
<rect x="1101.30" y="1135.20" width="8.30" height="2.5" fill="#000"/>
<text x="1110.67" y="1144.60" font-family="Liberation Serif" font-size="35" fill="#000" stroke="#000" stroke-width="0.3" textLength="34.67" lengthAdjust="spacing">80</text>
<circle cx="1154.20" cy="1135.60" r="2.9" fill="#000"/><circle cx="1154.20" cy="1143.30" r="2.9" fill="#000"/>
<text x="1183.52" y="1144.60" font-family="Liberation Serif" font-size="35" fill="#000" stroke="#000" stroke-width="0.3" textLength="33.61" lengthAdjust="spacing">10</text>
<circle cx="1224.40" cy="1135.60" r="2.9" fill="#000"/><circle cx="1224.40" cy="1143.30" r="2.9" fill="#000"/>
<text x="1253.12" y="1144.60" font-family="Liberation Serif" font-size="35" fill="#000" stroke="#000" stroke-width="0.3" textLength="35.31" lengthAdjust="spacing">10</text>
<text transform="translate(1102.06 1380.38) scale(0.9266 1)" font-family="'Liberation Serif','Noto Serif CJK SC',serif" font-size="34.08" fill="#000">乙</text>
<text transform="translate(1135.07 1380.60) scale(0.9374 1)" font-family="'Liberation Serif','Noto Serif CJK SC',serif" font-size="35.44" fill="#000">腈</text>
<circle cx="1176.80" cy="1370.60" r="2.9" fill="#000"/><circle cx="1176.80" cy="1378.30" r="2.9" fill="#000"/>
<text x="1204.16" y="1379.60" font-family="Liberation Serif" font-size="35" fill="#000" stroke="#000" stroke-width="0.3" textLength="112.36" lengthAdjust="spacing">200mM</text>
<text transform="translate(1326.61 1380.51) scale(0.9099 1)" font-family="'Liberation Serif','Noto Serif CJK SC',serif" font-size="34.09" fill="#000">甲</text>
<text transform="translate(1361.51 1380.24) scale(0.9597 1)" font-family="'Liberation Serif','Noto Serif CJK SC',serif" font-size="33.73" fill="#000">酸</text>
<text transform="translate(1395.59 1380.07) scale(0.9671 1)" font-family="'Liberation Serif','Noto Serif CJK SC',serif" font-size="33.73" fill="#000">铵</text>
<text x="1446.44" y="1379.60" font-family="Liberation Serif" font-size="35" fill="#000" stroke="#000" stroke-width="0.3" textLength="43.79" lengthAdjust="spacing">pH</text>
<text x="1499.03" y="1379.60" font-family="Liberation Serif" font-size="35" fill="#000" stroke="#000" stroke-width="0.3">3</text>
<rect x="1526.50" y="1370.20" width="7.90" height="2.5" fill="#000"/>
<text x="1535.57" y="1379.60" font-family="Liberation Serif" font-size="35" fill="#000" stroke="#000" stroke-width="0.3" textLength="33.97" lengthAdjust="spacing">80</text>
<circle cx="1578.00" cy="1370.60" r="2.9" fill="#000"/><circle cx="1578.00" cy="1378.30" r="2.9" fill="#000"/>
<text x="1606.46" y="1379.60" font-family="Liberation Serif" font-size="35" fill="#000" stroke="#000" stroke-width="0.3" textLength="36.87" lengthAdjust="spacing">20</text>
</g>
<defs><filter id="bl" x="0" y="0" width="100%" height="100%" filterUnits="userSpaceOnUse"><feGaussianBlur stdDeviation="0.6"/></filter><filter id="bt" x="0" y="0" width="100%" height="100%" filterUnits="userSpaceOnUse"><feGaussianBlur stdDeviation="0.45"/></filter></defs>
</svg></body></html>
